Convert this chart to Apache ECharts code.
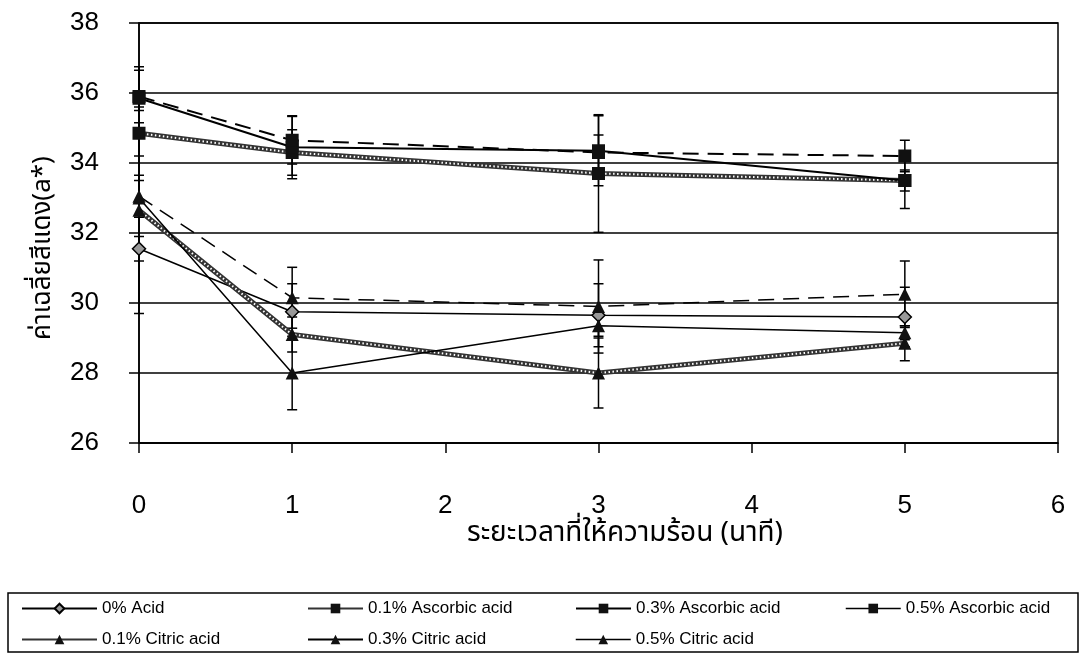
<!DOCTYPE html>
<html>
<head>
<meta charset="utf-8">
<script src="https://cdn.jsdelivr.net/npm/echarts@6/dist/echarts.min.js"></script>
<style>
  html, body { margin: 0; padding: 0; background: #fff; }
  #chart { width: 1080px; height: 653px; }
</style>
</head>
<body>
<div id="chart"></div>
<script>
// heating time (minutes)
const times = [0, 1, 3, 5];
const xTicks = [0, 1, 2, 3, 4, 5, 6];
const yTicks = [26, 28, 30, 32, 34, 36, 38];

const names = [
  '0% Acid',
  '0.1% Ascorbic acid',
  '0.3% Ascorbic acid',
  '0.5% Ascorbic acid',
  '0.1% Citric acid',
  '0.3% Citric acid',
  '0.5% Citric acid',
];

// mean a* values
const acid0 = [31.55, 29.75, 29.65, 29.6];
const ascorbic01 = [34.85, 34.3, 33.7, 33.5];
const ascorbic03 = [35.85, 34.45, 34.35, 33.5];
const ascorbic05 = [35.9, 34.65, 34.3, 34.2];
const citric01 = [32.65, 29.1, 28.0, 28.85];
const citric03 = [33.0, 28.0, 29.35, 29.15];
const citric05 = [33.05, 30.15, 29.9, 30.25];

// standard deviations (error bars)
const acid0Err = [0.35, 0.8, 0.9, 0.85];
const ascorbic01Err = [0.65, 0.65, 1.68, 0.8];
const ascorbic03Err = [0.9, 0.9, 1.0, 0.3];
const ascorbic05Err = [0.75, 0.68, 0.5, 0.45];
const citric01Err = [2.95, 0.5, 1.0, 0.5];
const citric03Err = [0.5, 1.05, 0.3, 0.2];
const citric05Err = [0.6, 0.87, 1.33, 0.95];

const values = [acid0, ascorbic01, ascorbic03, ascorbic05, citric01, citric03, citric05];
const errors = [acid0Err, ascorbic01Err, ascorbic03Err, ascorbic05Err, citric01Err, citric03Err, citric05Err];

const chart = echarts.init(document.getElementById('chart'));
const font = '"Liberation Sans", Arial, sans-serif';
const thaiFont = '"Noto Sans Thai", "Loma", "Garuda", "Noto Sans", "DejaVu Sans", sans-serif';

const pts = arr => arr.map((v, i) => [times[i], v]);

const errData = [];
values.forEach((arr, s) => {
  arr.forEach((v, i) => {
    errData.push([times[i], v - errors[s][i], v + errors[s][i]]);
  });
});

const styles = [
  { symbol: 'diamond', symbolSize: 13, itemStyle: { color: '#999', borderColor: '#000', borderWidth: 1.5 }, lineStyle: { color: '#000', width: 1.5 } },
  { symbol: 'rect', symbolSize: 13, itemStyle: { color: '#111' }, lineStyle: { color: '#333', width: 5 } },
  { symbol: 'rect', symbolSize: 13, itemStyle: { color: '#111' }, lineStyle: { color: '#000', width: 2 } },
  { symbol: 'rect', symbolSize: 13, itemStyle: { color: '#111' }, lineStyle: { color: '#000', width: 2, type: [16, 9] } },
  { symbol: 'triangle', symbolSize: 13, itemStyle: { color: '#111' }, lineStyle: { color: '#333', width: 5 } },
  { symbol: 'triangle', symbolSize: 13, itemStyle: { color: '#111' }, lineStyle: { color: '#000', width: 1.5 } },
  { symbol: 'triangle', symbolSize: 13, itemStyle: { color: '#111' }, lineStyle: { color: '#000', width: 1.5, type: [16, 9] } },
];

const series = [{
  type: 'custom',
  name: 'error',
  silent: true,
  z: 1,
  data: errData,
  renderItem: (params, api) => {
    const lo = api.coord([api.value(0), api.value(1)]);
    const hi = api.coord([api.value(0), api.value(2)]);
    const w = 5;
    const style = { stroke: '#000', lineWidth: 1.5 };
    return {
      type: 'group',
      children: [
        { type: 'line', shape: { x1: lo[0], y1: lo[1], x2: hi[0], y2: hi[1] }, style },
        { type: 'line', shape: { x1: lo[0] - w, y1: lo[1], x2: lo[0] + w, y2: lo[1] }, style },
        { type: 'line', shape: { x1: hi[0] - w, y1: hi[1], x2: hi[0] + w, y2: hi[1] }, style },
      ],
    };
  },
}];

names.forEach((n, s) => {
  series.push({
    type: 'line',
    name: n,
    data: pts(values[s]),
    z: 3,
    ...styles[s],
  });
  // hatched "chain" look of the 0.1% lines
  if (s === 1 || s === 4) {
    series.push({
      type: 'line',
      name: n + ' pattern',
      data: pts(values[s]),
      symbol: 'none',
      silent: true,
      z: 3,
      lineStyle: { color: '#fff', width: 2, type: [1.5, 2.5] },
    });
  }
});

// legend placement: [left, top]
const legendPos = [
  [21, 600], [307, 600], [575, 600], [845, 600],
  [21, 631], [307, 631], [575, 631],
];

const legends = names.map((n, i) => {
  const lg = {
    data: [n],
    left: legendPos[i][0],
    top: legendPos[i][1],
    padding: 0,
    itemWidth: legendPos[i][0] < 100 ? 75 : 55,
    itemHeight: 12,
    itemGap: 0,
    selectedMode: false,
    textStyle: { fontFamily: font, fontSize: 17, color: '#000' },
  };
  // dashed series show a plain line in the key
  if (i === 3 || i === 6) lg.lineStyle = { type: 'solid', width: 1.5 };
  return lg;
});

const option = {
  backgroundColor: '#fff',
  animation: false,
  grid: {
    left: 139, right: 22, top: 23, bottom: 210,
    show: true, borderColor: '#000', borderWidth: 1.5,
  },
  legend: legends,
  xAxis: {
    type: 'value',
    min: xTicks[0],
    max: xTicks[xTicks.length - 1],
    interval: 1,
    axisLine: { lineStyle: { color: '#000', width: 1.5 } },
    axisTick: { inside: false, length: 10, lineStyle: { color: '#000', width: 1.5 } },
    axisLabel: { fontFamily: font, fontSize: 26, color: '#000', margin: 50 },
    splitLine: { show: false },
  },
  yAxis: {
    type: 'value',
    min: yTicks[0],
    max: yTicks[yTicks.length - 1],
    interval: 2,
    axisLine: { show: true, lineStyle: { color: '#000', width: 1.5 } },
    axisTick: { show: true, length: 10, lineStyle: { color: '#000', width: 1.5 } },
    axisLabel: { fontFamily: font, fontSize: 26, color: '#000', margin: 40 },
    splitLine: { lineStyle: { color: '#000', width: 1.5 } },
  },
  graphic: [
    {
      type: 'text',
      x: 45, y: 248,
      rotation: Math.PI / 2,
      style: {
        text: 'ค่าเฉลี่ยสีแดง(a*)',
        font: '26px ' + thaiFont,
        fill: '#000',
        align: 'center',
        verticalAlign: 'middle',
      },
    },
    {
      type: 'text',
      x: 625, y: 535,
      style: {
        text: 'ระยะเวลาที่ให้ความร้อน (นาที)',
        font: '28px ' + thaiFont,
        fill: '#000',
        align: 'center',
        verticalAlign: 'middle',
      },
    },
    {
      type: 'rect',
      shape: { x: 8, y: 593, width: 1070, height: 59 },
      style: { fill: 'none', stroke: '#000', lineWidth: 1.5 },
      z: -1,
    },
  ],
  series,
};

chart.setOption(option);
window.addEventListener('resize', () => chart.resize());
</script>
</body>
</html>
